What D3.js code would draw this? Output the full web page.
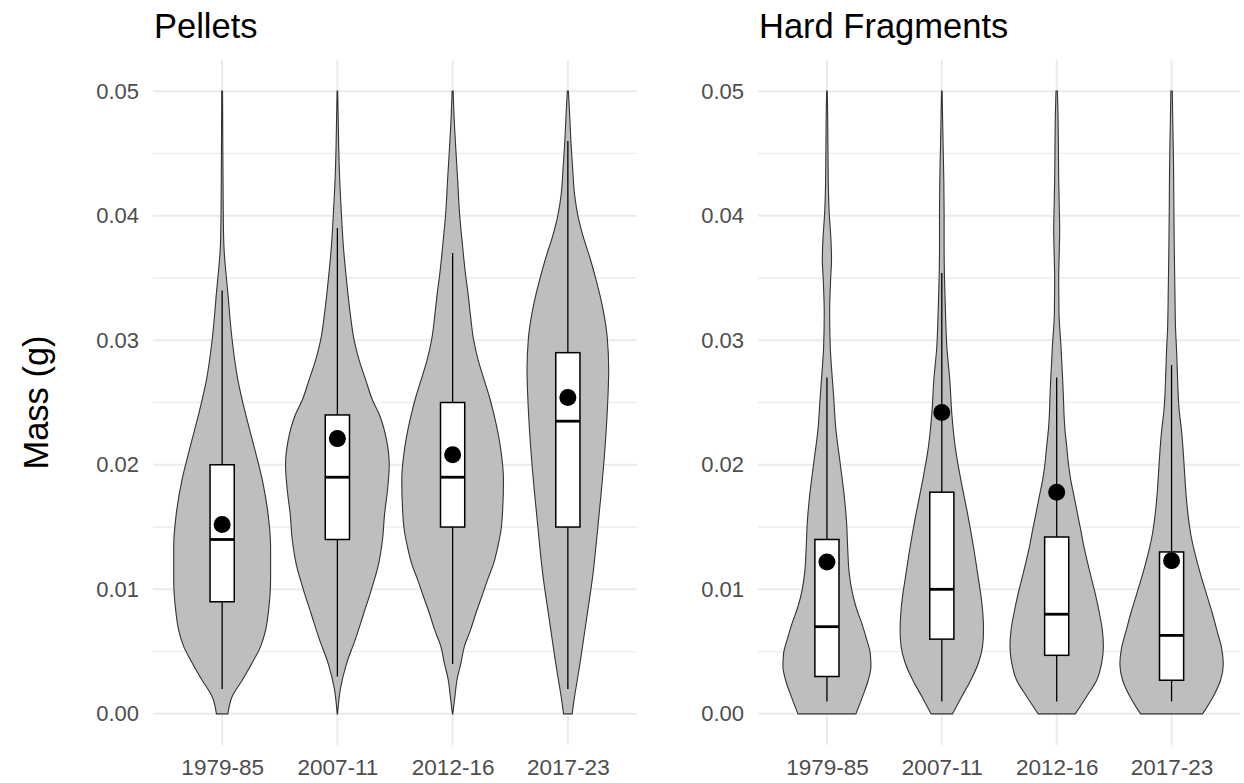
<!DOCTYPE html>
<html>
<head>
<meta charset="utf-8">
<script src="https://cdn.jsdelivr.net/npm/d3@7"></script>
<style>
  html, body { margin: 0; padding: 0; background: #ffffff; }
  svg { display: block; font-family: "Liberation Sans", Arial, sans-serif; }
</style>
</head>
<body>
<svg id="chart" width="1244" height="783"></svg>
<script>
// Plastic particle mass by sampling period, for two particle types.
const categories = ["1979-85", "2007-11", "2012-16", "2017-23"];
const panelTitles = ["Pellets", "Hard Fragments"];
const yTicks = [0, 0.01, 0.02, 0.03, 0.04, 0.05];
const yMinorTicks = [0.005, 0.015, 0.025, 0.035, 0.045];

// Box-plot statistics (g)
const pelletsQ1 = [0.009, 0.014, 0.015, 0.015];
const pelletsMedian = [0.014, 0.019, 0.019, 0.0235];
const pelletsQ3 = [0.020, 0.024, 0.025, 0.029];
const pelletsWhiskerLow = [0.002, 0.003, 0.004, 0.002];
const pelletsWhiskerHigh = [0.034, 0.039, 0.037, 0.046];
const pelletsMean = [0.0152, 0.0221, 0.0208, 0.0254];

const fragmentsQ1 = [0.003, 0.006, 0.0047, 0.0027];
const fragmentsMedian = [0.007, 0.010, 0.008, 0.0063];
const fragmentsQ3 = [0.014, 0.0178, 0.0142, 0.013];
const fragmentsWhiskerLow = [0.001, 0.001, 0.001, 0.001];
const fragmentsWhiskerHigh = [0.027, 0.0354, 0.027, 0.028];
const fragmentsMean = [0.0122, 0.0242, 0.0178, 0.0123];

// Kernel density profiles: [mass (g), relative density]
const pellets1979Density = [[0, 5.7], [0.0014, 10], [0.0027, 20], [0.0041, 30], [0.0054, 38.3], [0.0067, 43.3], [0.0081, 46], [0.0108, 48.3], [0.0134, 48.3], [0.0161, 45.7], [0.0188, 40], [0.0215, 31.7], [0.0241, 23.3], [0.0268, 15.7], [0.030, 10], [0.0338, 5.7], [0.0375, 1.8], [0.0402, 1.1], [0.045, 0.7], [0.05, 0.4]];
const pellets2007Density = [[0, 0.2], [0.002, 3], [0.004, 9], [0.006, 18], [0.008, 26], [0.010, 34], [0.012, 41], [0.014, 45], [0.016, 47], [0.018, 50], [0.020, 51.7], [0.022, 49], [0.024, 42], [0.0252, 35], [0.0268, 28.3], [0.0284, 21.7], [0.030, 16.7], [0.0322, 12.7], [0.0349, 9], [0.0375, 6], [0.0402, 4], [0.0429, 2.3], [0.0456, 1.3], [0.0482, 0.7], [0.05, 0.3]];
const pellets2012Density = [[0, 0.2], [0.0014, 2.3], [0.0027, 4.3], [0.0041, 8.3], [0.0054, 11.7], [0.0067, 17.7], [0.0081, 23.3], [0.0094, 29], [0.0108, 35], [0.0121, 41], [0.0134, 45], [0.0148, 48.3], [0.0161, 49.7], [0.0188, 50.7], [0.0215, 47.5], [0.0241, 41], [0.0255, 36.5], [0.0268, 31.5], [0.0284, 25.5], [0.030, 21], [0.0322, 17.5], [0.0338, 15.3], [0.0354, 12.7], [0.0375, 10], [0.0402, 6.9], [0.0429, 5], [0.0456, 3], [0.0482, 1.3], [0.05, 0.5]];
const pellets2017Density = [[0, 4.3], [0.0014, 6.7], [0.003, 10], [0.0047, 13.3], [0.008, 19.3], [0.0112, 25], [0.0145, 29.3], [0.0178, 33.3], [0.021, 36.7], [0.0243, 39.3], [0.0276, 40.7], [0.0302, 39.3], [0.0325, 35], [0.0348, 28.3], [0.0367, 21.7], [0.0384, 15], [0.040, 10], [0.0417, 6.7], [0.0439, 4.7], [0.0456, 3.3], [0.0472, 2.3], [0.0489, 1.3], [0.05, 0.5]];

const fragments1979Density = [[0, 29], [0.0014, 35.7], [0.0027, 41.3], [0.0038, 44], [0.0049, 43.3], [0.0059, 40], [0.0073, 34.7], [0.0086, 29], [0.010, 24.7], [0.0113, 22.3], [0.0134, 20.7], [0.0153, 19.7], [0.0175, 17.3], [0.0201, 13.3], [0.0228, 9], [0.0255, 6.7], [0.0268, 5.5], [0.0295, 3.3], [0.0322, 2.7], [0.0349, 3.7], [0.0365, 4.6], [0.0381, 4], [0.0402, 2.3], [0.0429, 1.3], [0.0456, 1], [0.0482, 0.7], [0.05, 0.3]];
const fragments2007Density = [[0, 10.7], [0.0014, 20], [0.0027, 29], [0.0041, 36.7], [0.0054, 40.7], [0.0067, 41.7], [0.0081, 41], [0.0094, 39.3], [0.0108, 36.7], [0.0134, 31.7], [0.0161, 25.7], [0.0188, 19], [0.0215, 13.3], [0.0241, 10], [0.0268, 8], [0.0295, 5], [0.0322, 3.7], [0.0349, 2.7], [0.0375, 2.3], [0.0402, 2.3], [0.0429, 2], [0.0456, 1.3], [0.0482, 0.7], [0.05, 0.3]];
const fragments2012Density = [[0, 18.5], [0.0014, 30], [0.0027, 40], [0.0041, 45], [0.0054, 46.7], [0.0067, 45.7], [0.0081, 42.7], [0.0094, 39.3], [0.0108, 35], [0.0121, 31], [0.0134, 27.3], [0.0148, 24], [0.0161, 20.7], [0.0175, 17.3], [0.0188, 14], [0.0201, 11.7], [0.0215, 10], [0.0228, 8.3], [0.0241, 7.3], [0.0255, 6.7], [0.0268, 6], [0.0295, 4.3], [0.0322, 2.3], [0.0349, 2], [0.0375, 2.7], [0.0389, 3], [0.0402, 2.7], [0.0429, 2], [0.0456, 1.7], [0.0482, 1.3], [0.05, 0.7]];
const fragments2017Density = [[0, 31], [0.0014, 41.7], [0.0027, 49], [0.004, 51.7], [0.0053, 50], [0.0066, 45.7], [0.008, 41], [0.0096, 35], [0.0112, 29], [0.0129, 23.3], [0.0145, 19], [0.0161, 16.3], [0.0178, 14.3], [0.0194, 13], [0.021, 11.7], [0.0227, 10], [0.0243, 7.7], [0.0276, 5.7], [0.0292, 5], [0.0309, 4], [0.0341, 3.3], [0.0374, 2.7], [0.0407, 2.3], [0.0439, 2], [0.0472, 1.3], [0.05, 0.7]];

const panelData = [
  {
    title: panelTitles[0],
    q1: pelletsQ1, median: pelletsMedian, q3: pelletsQ3,
    lo: pelletsWhiskerLow, hi: pelletsWhiskerHigh, mean: pelletsMean,
    density: [pellets1979Density, pellets2007Density, pellets2012Density, pellets2017Density]
  },
  {
    title: panelTitles[1],
    q1: fragmentsQ1, median: fragmentsMedian, q3: fragmentsQ3,
    lo: fragmentsWhiskerLow, hi: fragmentsWhiskerHigh, mean: fragmentsMean,
    density: [fragments1979Density, fragments2007Density, fragments2012Density, fragments2017Density]
  }
];

const svg = d3.select("#chart");

const panelTop = 60, panelBottom = 745;
const panelX = [[153, 637], [758, 1240.5]];

const y = d3.scaleLinear().domain([-0.0025, 0.0525]).range([panelBottom, panelTop]);

panelData.forEach((p, pi) => {
  const [left, right] = panelX[pi];
  // discrete axis: 0.6 category units of padding on each side
  const x = d3.scalePoint().domain(categories).range([left, right]).padding(0.6);
  const step = x.step();
  const cx = c => x(c);

  const g = svg.append("g");

  // grid
  g.selectAll("line.minor").data(yMinorTicks).join("line")
    .attr("x1", left).attr("x2", right)
    .attr("y1", d => y(d)).attr("y2", d => y(d))
    .attr("stroke", "#ededed").attr("stroke-width", 1.4);
  g.selectAll("line.major").data(yTicks).join("line")
    .attr("x1", left).attr("x2", right)
    .attr("y1", d => y(d)).attr("y2", d => y(d))
    .attr("stroke", "#ebebeb").attr("stroke-width", 2);
  g.selectAll("line.vgrid").data(categories).join("line")
    .attr("x1", d => cx(d)).attr("x2", d => cx(d))
    .attr("y1", panelTop).attr("y2", panelBottom)
    .attr("stroke", "#ebebeb").attr("stroke-width", 2);

  // y tick labels
  const yAxis = d3.axisLeft(y).tickValues(yTicks).tickFormat(d3.format(".2f")).tickSize(0).tickPadding(14);
  const ya = g.append("g").attr("transform", `translate(${left},0)`).call(yAxis);
  ya.select(".domain").remove();
  ya.selectAll("text").attr("font-size", 22).attr("fill", "#4d4d4d")
    .attr("font-family", "Liberation Sans, Arial, sans-serif");

  // x tick labels
  const xAxis = d3.axisBottom(x).tickSize(0).tickPadding(0);
  const xa = g.append("g").attr("transform", `translate(0,${panelBottom})`).call(xAxis);
  xa.select(".domain").remove();
  xa.selectAll("text").attr("font-size", 22.5).attr("fill", "#4d4d4d")
    .attr("font-family", "Liberation Sans, Arial, sans-serif")
    .attr("dy", null).attr("y", 30);

  // violin width scale (area-scaled within panel)
  const maxDens = d3.max(p.density, arr => d3.max(arr, d => d[1]));
  const w = d3.scaleLinear().domain([0, maxDens]).range([0, step * 0.45]);

  categories.forEach((c, i) => {
    const xc = cx(c);
    const area = d3.area()
      .y(d => y(d[0]))
      .x0(d => xc - w(d[1]))
      .x1(d => xc + w(d[1]))
      .curve(d3.curveMonotoneY);
    g.append("path")
      .datum(p.density[i])
      .attr("d", area)
      .attr("fill", "#bebebe")
      .attr("stroke", "#333333")
      .attr("stroke-width", 1.1);

    const bw = step * 0.21;
    // whiskers
    g.append("line").attr("x1", xc).attr("x2", xc)
      .attr("y1", y(p.q3[i])).attr("y2", y(p.hi[i]))
      .attr("stroke", "#000").attr("stroke-width", 1.3);
    g.append("line").attr("x1", xc).attr("x2", xc)
      .attr("y1", y(p.q1[i])).attr("y2", y(p.lo[i]))
      .attr("stroke", "#000").attr("stroke-width", 1.3);
    // box
    g.append("rect")
      .attr("x", xc - bw / 2).attr("width", bw)
      .attr("y", y(p.q3[i])).attr("height", y(p.q1[i]) - y(p.q3[i]))
      .attr("fill", "#ffffff").attr("stroke", "#000").attr("stroke-width", 1.5);
    // median
    g.append("line").attr("x1", xc - bw / 2).attr("x2", xc + bw / 2)
      .attr("y1", y(p.median[i])).attr("y2", y(p.median[i]))
      .attr("stroke", "#000").attr("stroke-width", 2.8);
    // mean
    g.append("circle").attr("cx", xc).attr("cy", y(p.mean[i])).attr("r", 8.5)
      .attr("fill", "#000");
  });

  // panel title
  svg.append("text")
    .attr("x", left + 1).attr("y", 38)
    .attr("font-size", 34.5).attr("fill", "#000")
    .text(p.title);
});

// y axis title
svg.append("text")
  .attr("transform", `translate(48,${(panelTop + panelBottom) / 2}) rotate(-90)`)
  .attr("text-anchor", "middle")
  .attr("font-size", 34.5).attr("fill", "#000")
  .text("Mass (g)");
</script>
</body>
</html>
